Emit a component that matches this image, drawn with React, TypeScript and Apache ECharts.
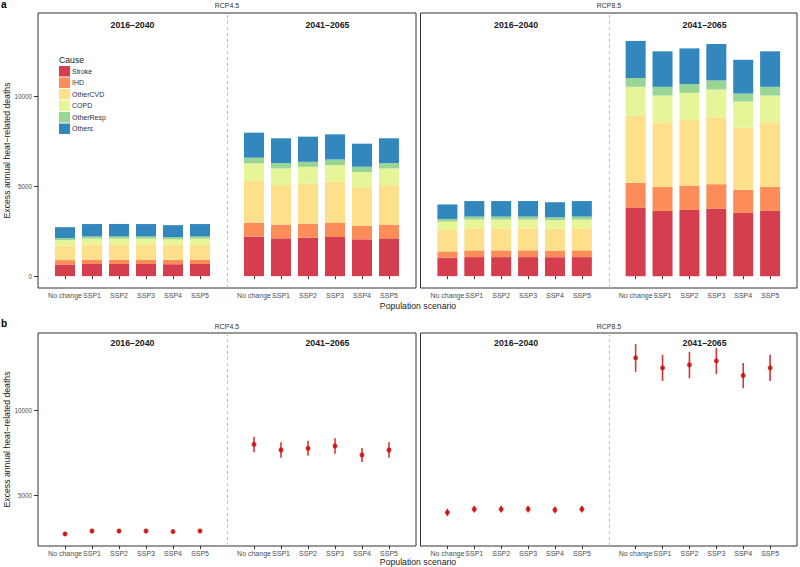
import React, { useEffect, useRef } from "react";
import * as echarts from "echarts";

const scenarios = ["No change", "SSP1", "SSP2", "SSP3", "SSP4", "SSP5"];
const periods = ["2016–2040", "2041–2065"];
const rcps = ["RCP4.5", "RCP8.5"];
const causes = ["Stroke", "IHD", "OtherCVD", "COPD", "OtherResp", "Others"];
const causeColors = ["#D53E4F", "#FC8D59", "#FEE08B", "#E6F598", "#99D594", "#3288BD"];

// values: 6 scenarios for 2016–2040 followed by 6 for 2041–2065
const rcp45Stroke = [650, 675, 675, 675, 665, 675, 2200, 2105, 2140, 2180, 2050, 2105];
const rcp45IHD = [245, 245, 245, 245, 240, 245, 780, 765, 780, 780, 745, 765];
const rcp45OtherCVD = [800, 850, 850, 850, 835, 850, 2330, 2195, 2235, 2290, 2140, 2195];
const rcp45COPD = [315, 320, 320, 320, 315, 320, 970, 930, 930, 930, 855, 930];
const rcp45OtherResp = [115, 125, 125, 125, 120, 125, 315, 300, 280, 315, 300, 300];
const rcp45Others = [600, 685, 690, 685, 665, 685, 1395, 1380, 1400, 1400, 1285, 1380];

const rcp85Stroke = [1025, 1060, 1060, 1060, 1055, 1060, 3815, 3630, 3685, 3745, 3520, 3630];
const rcp85IHD = [355, 375, 375, 375, 370, 375, 1380, 1340, 1360, 1375, 1285, 1340];
const rcp85OtherCVD = [1190, 1230, 1230, 1230, 1215, 1230, 3745, 3595, 3650, 3725, 3460, 3595];
const rcp85COPD = [465, 485, 485, 485, 475, 485, 1600, 1490, 1510, 1545, 1455, 1490];
const rcp85OtherResp = [150, 165, 165, 165, 160, 165, 485, 485, 485, 505, 445, 485];
const rcp85Others = [805, 865, 865, 865, 840, 865, 2070, 1975, 1990, 2030, 1880, 1975];

const rcp45Mean = [2730, 2905, 2905, 2905, 2870, 2905, 8010, 7677, 7777, 7914, 7382, 7677];
const rcp45Low = [2640, 2800, 2800, 2800, 2770, 2800, 7540, 7223, 7341, 7459, 6968, 7223];
const rcp45High = [2820, 3010, 3010, 3010, 2970, 3010, 8463, 8132, 8227, 8369, 7796, 8132];
const rcp85Mean = [4000, 4190, 4190, 4190, 4150, 4190, 13110, 12522, 12699, 12935, 12069, 12522];
const rcp85Low = [3780, 3990, 3990, 3990, 3950, 3990, 12285, 11740, 11911, 12150, 11320, 11740];
const rcp85High = [4220, 4390, 4390, 4390, 4350, 4390, 13920, 13292, 13467, 13688, 12805, 13292];

const yTicksA = [0, 5000, 10000];
const yTicksB = [5000, 10000];

const stackData = [
  [rcp45Stroke, rcp45IHD, rcp45OtherCVD, rcp45COPD, rcp45OtherResp, rcp45Others],
  [rcp85Stroke, rcp85IHD, rcp85OtherCVD, rcp85COPD, rcp85OtherResp, rcp85Others],
];
const meanData = [rcp45Mean, rcp85Mean];
const lowData = [rcp45Low, rcp85Low];
const highData = [rcp45High, rcp85High];

const FONT = "'Liberation Sans', Arial, Helvetica, sans-serif";

// category slots: blank, 6 scenarios, blank (divider), 6 scenarios, blank
const slots = ["", ...scenarios, "", ...scenarios, ""];
const isBlank = (i: number) => i === 0 || i === 7 || i === 14;
// place 12 values into the 15 slots
const toSlots = (vals: number[]) => slots.map((_, i) => (isBlank(i) ? null : vals[i < 7 ? i - 1 : i - 2]));
const slotIndex = (k: number) => (k < 6 ? k + 1 : k + 2);

export default function App() {
  const ref = useRef<HTMLDivElement>(null);
  useEffect(() => {
    if (!ref.current) return;
    const chart = echarts.init(ref.current, null, { renderer: "svg" });

    const gridBoxes = [
      { left: 38, top: 13, width: 378, height: 275 },
      { left: 420.5, top: 13, width: 377, height: 275 },
      { left: 38, top: 333, width: 378, height: 213 },
      { left: 420.5, top: 333, width: 377, height: 213 },
    ];
    const grids = gridBoxes.map((g) => ({ ...g, show: true, borderColor: "#333", borderWidth: 1, backgroundColor: "#fff" }));

    const xAxes = grids.map((_, gi) => ({
      type: "category",
      gridIndex: gi,
      data: slots,
      boundaryGap: false,
      axisLine: { show: false },
      splitLine: { show: false },
      axisTick: {
        show: true,
        length: 3,
        interval: (i: number) => !isBlank(i),
        lineStyle: { color: "#333", width: 1 },
      },
      axisLabel: {
        show: true,
        interval: 0,
        fontSize: 7,
        color: "#4D4D4D",
        margin: 4,
        fontFamily: FONT,
      },
    }));

    const yAxes = grids.map((_, gi) => {
      const isA = gi < 2;
      const isLeft = gi % 2 === 0;
      const ticks = isA ? yTicksA : yTicksB;
      return {
        type: "value",
        gridIndex: gi,
        min: isA ? -660 : 2020,
        max: isA ? 14650 : 14575,
        axisLine: { show: false },
        splitLine: { show: false },
        axisTick: { show: isLeft, length: 4, customValues: ticks, lineStyle: { color: "#333", width: 1 } },
        axisLabel: {
          show: isLeft,
          customValues: ticks,
          formatter: (v: number) => String(v),
          fontSize: 6.3,
          color: "#4D4D4D",
          margin: 6,
          fontFamily: FONT,
        },
      };
    });

    const series: any[] = [];
    const dashedLine = {
      silent: true,
      symbol: ["none", "none"],
      label: { show: false },
      lineStyle: { color: "#BDBDBD", type: [3, 3], width: 1 },
      data: [{ xAxis: 7 }],
    };

    // panel a: stacked bars
    rcps.forEach((_, r) => {
      causes.forEach((c, ci) => {
        series.push({
          type: "bar",
          name: c,
          xAxisIndex: r,
          yAxisIndex: r,
          stack: "a" + r,
          barWidth: 20,
          itemStyle: { color: causeColors[ci] },
          data: toSlots(stackData[r][ci]),
          markLine: ci === 0 ? dashedLine : undefined,
        });
      });
    });

    // panel b: error bars + points
    rcps.forEach((_, r) => {
      const gi = 2 + r;
      series.push({
        type: "custom",
        xAxisIndex: gi,
        yAxisIndex: gi,
        encode: { x: 0, y: [1, 2] },
        data: lowData[r].map((lo, k) => [slotIndex(k), lo, highData[r][k]]),
        renderItem: (params: any, api: any) => {
          const x = api.value(0);
          const p1 = api.coord([x, api.value(1)]);
          const p2 = api.coord([x, api.value(2)]);
          return {
            type: "line",
            shape: { x1: p1[0], y1: p1[1], x2: p2[0], y2: p2[1] },
            style: { stroke: "#DB3535", lineWidth: 1.6 },
          };
        },
        markLine: dashedLine,
      });
      series.push({
        type: "scatter",
        xAxisIndex: gi,
        yAxisIndex: gi,
        symbolSize: 5,
        itemStyle: { color: "#CC0000" },
        data: meanData[r].map((v, k) => [slotIndex(k), v]),
      });
    });

    const txt = (text: string, x: number, y: number, size: number, extra: any = {}) => ({
      type: "text",
      x,
      y,
      style: {
        text,
        fontSize: size,
        fontFamily: FONT,
        fill: extra.fill || "#1A1A1A",
        fontWeight: extra.fontWeight || "normal",
        textAlign: extra.align || "center",
        textVerticalAlign: "middle",
      },
      rotation: extra.rotation || 0,
      silent: true,
    });

    // period titles, at y = 14000 in each panel's scale
    const titleSlot = [
      [3.5, 10.72],
      [3.55, 10.55],
    ];
    const periodTitles: any[] = [];
    gridBoxes.forEach((g, gi) => {
      const isA = gi < 2;
      const min = isA ? -660 : 2020;
      const max = isA ? 14650 : 14575;
      const y = g.top + ((max - 14000) / (max - min)) * g.height;
      periods.forEach((p, pi) => {
        const x = g.left + (titleSlot[gi % 2][pi] / 14) * g.width;
        periodTitles.push(txt(p, x, y, 8.8, { fontWeight: "bold" }));
      });
    });

    const graphic = [
      txt("a", 1, 4, 10, { fontWeight: "bold", align: "left", fill: "#000" }),
      txt("b", 1, 323, 10, { fontWeight: "bold", align: "left", fill: "#000" }),
      txt(rcps[0], 227, 5, 7, { fill: "#333" }),
      txt(rcps[1], 609, 5, 7, { fill: "#333" }),
      txt(rcps[0], 227, 326, 7, { fill: "#333" }),
      txt(rcps[1], 609, 326, 7, { fill: "#333" }),
      txt("Excess annual heat−related deaths", 7, 150.5, 8.7, { rotation: Math.PI / 2 }),
      txt("Excess annual heat−related deaths", 7, 439.5, 8.7, { rotation: Math.PI / 2 }),
      txt("Population scenario", 418, 306, 8.7),
      txt("Population scenario", 418, 562, 8.7),
      txt("Cause", 59, 60, 8.7, { align: "left" }),
      ...periodTitles,
    ];

    chart.setOption({
      animation: false,
      backgroundColor: "#fff",
      grid: grids,
      xAxis: xAxes,
      yAxis: yAxes,
      legend: {
        data: causes,
        orient: "vertical",
        left: 59,
        top: 66,
        padding: 0,
        itemWidth: 11,
        itemHeight: 10.5,
        itemGap: 1,
        icon: "rect",
        selectedMode: false,
        textStyle: { fontSize: 7, color: "#333", fontFamily: FONT, padding: [0, 0, 0, -3] },
      },
      series,
      graphic,
    });
    return () => chart.dispose();
  }, []);
  return <div ref={ref} style={{ position: "absolute", left: 0, top: 0, width: 800, height: 567 }} />;
}
